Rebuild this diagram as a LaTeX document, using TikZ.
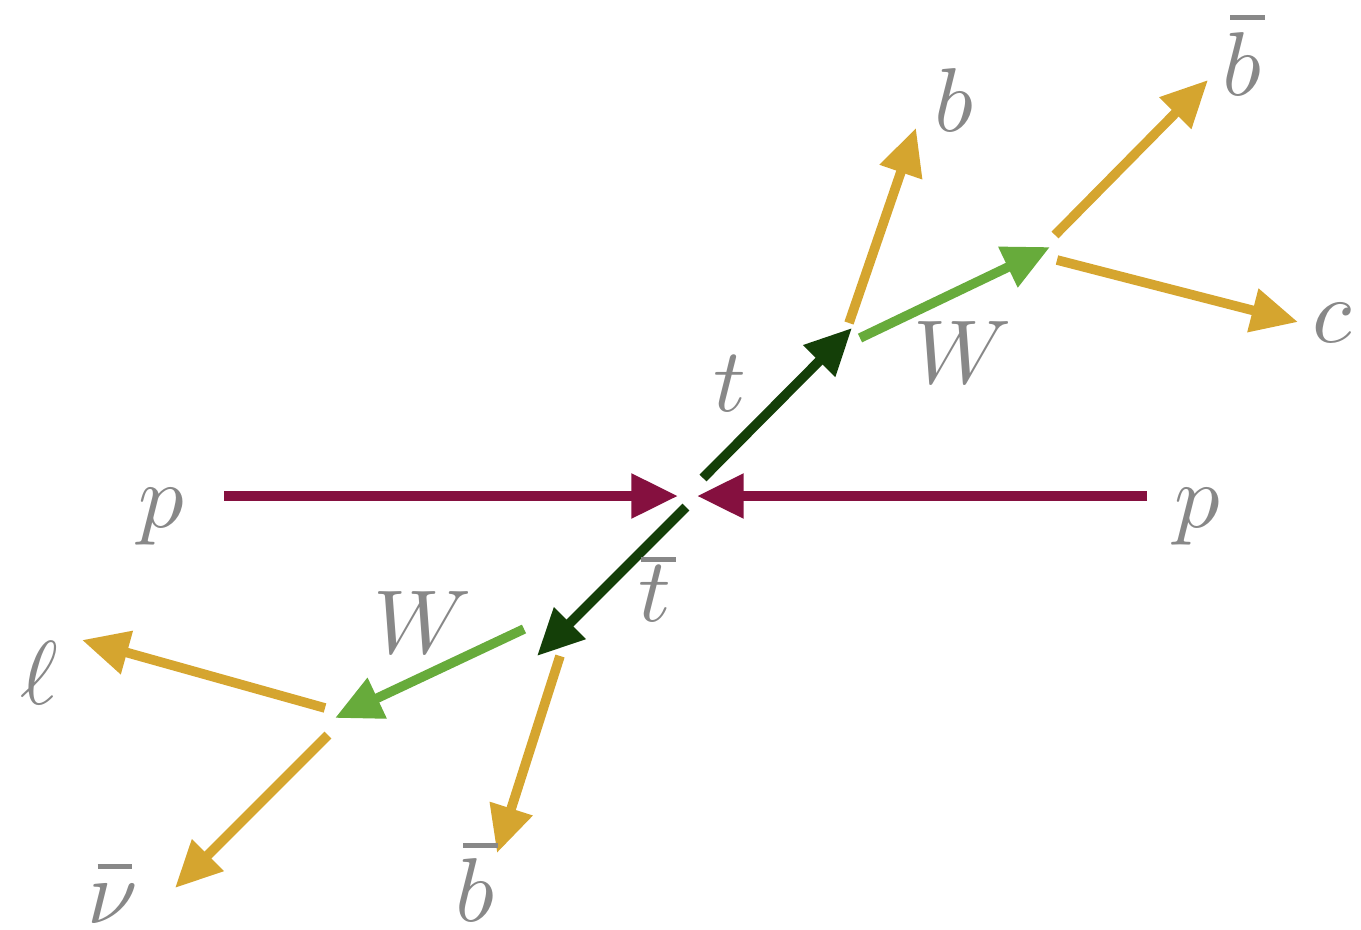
\documentclass[tikz,border=0pt]{standalone}
\usepackage{unicode-math}
\setmathfont{Latin Modern Math}
\usetikzlibrary{arrows.meta}
\definecolor{proton}{HTML}{85103F}
\definecolor{topc}{HTML}{143F08}
\definecolor{wcol}{HTML}{67AB3B}
\definecolor{quark}{HTML}{D5A52F}
\definecolor{lab}{HTML}{888888}
\newcommand\barred[3]{\leavevmode\ooalign{$#1$\cr\hidewidth\kern#3\raisebox{#2}{\rule{0.38em}{0.055em}}\hidewidth\cr}}
\tikzset{
  ptcl/.style={line width=7.2pt,-{Triangle[length=35pt,width=32pt]}},
  lbl/.style={text=lab,font=\fontsize{68}{72}\selectfont,inner sep=0pt,anchor=base}
}
\begin{document}
\begin{tikzpicture}[x=0.75pt,y=-0.75pt]
\useasboundingbox (0,0) rectangle (1361,929);
% coordinates
\coordinate (pl0) at (224,496); \coordinate (pl1) at (678,496);
\coordinate (pr0) at (1147,496); \coordinate (pr1) at (697,496);
\coordinate (t0) at (703,478); \coordinate (t1) at (852,328);
\coordinate (tb0) at (686,507); \coordinate (tb1) at (537,656);
\coordinate (b0) at (849,323); \coordinate (b1) at (916,128);
\coordinate (w0) at (860,338); \coordinate (w1) at (1050,247);
\coordinate (bb0) at (1055,235); \coordinate (bb1) at (1208,80);
\coordinate (c0) at (1057,260); \coordinate (c1) at (1298,322);
\coordinate (bbl0) at (560,656); \coordinate (bbl1) at (497,853);
\coordinate (wl0) at (524,629); \coordinate (wl1) at (335,718);
\coordinate (l0) at (325,708); \coordinate (l1) at (82,640);
\coordinate (n0) at (328,735); \coordinate (n1) at (175,888);
% arrows
\draw[ptcl,proton] (pl0) -- (pl1);
\draw[ptcl,proton] (pr0) -- (pr1);
\draw[ptcl,topc] (t0) -- (t1);
\draw[ptcl,topc] (tb0) -- (tb1);
\draw[ptcl,quark] (b0) -- (b1);
\draw[ptcl,wcol] (w0) -- (w1);
\draw[ptcl,quark] (bb0) -- (bb1);
\draw[ptcl,quark] (c0) -- (c1);
\draw[ptcl,quark] (bbl0) -- (bbl1);
\draw[ptcl,wcol] (wl0) -- (wl1);
\draw[ptcl,quark] (l0) -- (l1);
\draw[ptcl,quark] (n0) -- (n1);
% labels (anchored on baseline)
\node[lbl] (Lp1) at (162,527) {$p$};
\node[lbl] (Lp2) at (1198,527) {$p$};
\node[lbl] (Lt) at (730,411) {$t$};
\node[lbl] (Ltb) at (655,621) {\barred{t}{0.65em}{0.08em}};
\node[lbl] (Lb) at (955,131) {$b$};
\node[lbl] (Lbb) at (1243,95) {\barred{b}{0.83em}{0.1em}};
\node[lbl] (Lc) at (1333,342) {$c$};
\node[lbl] (Lw1) at (962,383) {$W$};
\node[lbl] (Lw2) at (422,653) {$W$};
\node[lbl] (Ll) at (40,704) {$\ell$};
\node[lbl] (Ln) at (113,923) {\barred{\nu}{0.6em}{0.04em}};
\node[lbl] (Lbb2) at (476,921) {\barred{b}{0.8em}{0.1em}};
\end{tikzpicture}
\end{document}
